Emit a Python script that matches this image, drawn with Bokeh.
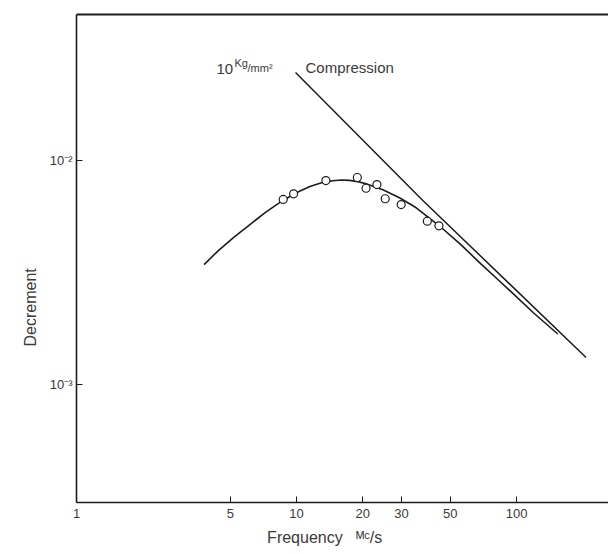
from bokeh.plotting import figure
from bokeh.models import (Range1d, LogAxis, FixedTicker, BasicTickFormatter,
                          CustomJSTickFormatter, Label)
from bokeh.embed import file_html
from bokeh.resources import INLINE

# Measured decrement points (frequency in Mc/s)
freq_meas = [8.7, 9.7, 13.6, 18.9, 20.7, 23.2, 25.3, 29.9, 39.3, 44.4]
decr_meas = [6.70e-3, 7.10e-3, 8.14e-3, 8.40e-3, 7.52e-3, 7.81e-3, 6.75e-3,
             6.36e-3, 5.36e-3, 5.11e-3]

# Fitted curve through the measurements
freq_curve = [3.8, 4.4, 5.2, 6.1, 7.2, 8.7, 10.2, 11.5, 13.0, 14.6, 16.0,
              17.4, 19.0, 20.7, 24.7, 29.5, 35.0, 44.7, 56.0, 67.9, 82.0,
              96.2, 120.0, 154.0]
decr_curve = [3.43e-3, 3.95e-3, 4.55e-3, 5.15e-3, 5.85e-3, 6.65e-3, 7.25e-3,
              7.65e-3, 7.95e-3, 8.12e-3, 8.18e-3, 8.15e-3, 8.05e-3, 7.88e-3,
              7.40e-3, 6.80e-3, 6.15e-3, 5.10e-3, 4.20e-3, 3.50e-3, 2.95e-3,
              2.55e-3, 2.08e-3, 1.68e-3]

# Straight line for 10 kg/mm^2 compression
freq_comp = [9.9, 37.5, 207.0]
decr_comp = [2.47e-2, 6.63e-3, 1.32e-3]

x_ticks = [1, 5, 10, 20, 30, 50, 100]
y_ticks = [1e-3, 1e-2]

INK = "#1c1c1c"
TXT = "#3a3a3a"
SANS = "Liberation Sans"
NBSP = "\u00a0"

p = figure(width=608, height=554,
           x_axis_type="log", y_axis_type="log",
           x_range=Range1d(1, 10 ** 2.418),
           y_range=Range1d(10 ** -3.527, 10 ** -1.348),
           output_backend="svg", toolbar_location=None,
           min_border_left=76, min_border_right=0,
           min_border_top=14, min_border_bottom=52)

p.grid.visible = False
p.outline_line_color = None
p.background_fill_color = "white"
p.border_fill_color = "white"

for ax in (p.xaxis[0], p.yaxis[0]):
    ax.axis_line_color = INK
    ax.axis_line_width = 1.6
    ax.major_tick_line_color = INK
    ax.major_tick_line_width = 1.0
    ax.major_tick_in = 6
    ax.major_tick_out = 0
    ax.minor_tick_in = 0
    ax.minor_tick_out = 0
    ax.major_label_text_font = SANS
    ax.major_label_text_font_size = "13px"
    ax.major_label_text_color = TXT
    ax.axis_label_text_font = SANS
    ax.axis_label_text_font_size = "16px"
    ax.axis_label_text_font_style = "normal"
    ax.axis_label_text_color = TXT

xa = p.xaxis[0]
xa.ticker = FixedTicker(ticks=x_ticks)
xa.formatter = BasicTickFormatter()
xa.major_label_standoff = 6
# trailing spaces pull the title left of the frame centre
xa.axis_label = "Frequency" + NBSP * 3 + "\u1d39\u1d9c/s" + NBSP * 8
xa.axis_label_standoff = 8

ya = p.yaxis[0]
ya.ticker = FixedTicker(ticks=y_ticks)
ya.formatter = CustomJSTickFormatter(
    code="return tick < 0.005 ? '10\u207b\u00b3' : '10\u207b\u00b2';")
ya.major_label_standoff = 4
# trailing spaces push the rotated title down the axis
ya.axis_label = "Decrement" + NBSP * 22
ya.axis_label_standoff = 8

# top border line of the frame
top = LogAxis(ticker=FixedTicker(ticks=[]), major_label_text_font_size="0px",
              major_tick_in=0, major_tick_out=0, minor_tick_in=0,
              minor_tick_out=0, axis_line_color=INK, axis_line_width=1.8)
p.add_layout(top, "above")

# curves and measurements
p.line(freq_comp, decr_comp, line_color=INK, line_width=1.5)
p.line(freq_curve, decr_curve, line_color=INK, line_width=1.6,
       line_join="round")
p.scatter(freq_meas, decr_meas, size=8, marker="circle",
          fill_color="white", line_color=INK, line_width=1.2)


def label(x, y, text, size, align="left", baseline="alphabetic"):
    # canvas units: x from the left edge, y from the top edge
    p.add_layout(Label(x=x, y=y, x_units="canvas", y_units="canvas",
                       text=text, text_font=SANS, text_font_size=size,
                       text_color=TXT, text_align=align,
                       text_baseline=baseline))


# annotation of the straight line
label(216, 68, "10", "15px")
label(234, 62, "Kg", "11px")
label(247, 67, "/mm\u00b2", "11px")
label(305, 67, "Compression", "15px")

open("out.html", "w").write(file_html(p, INLINE))
